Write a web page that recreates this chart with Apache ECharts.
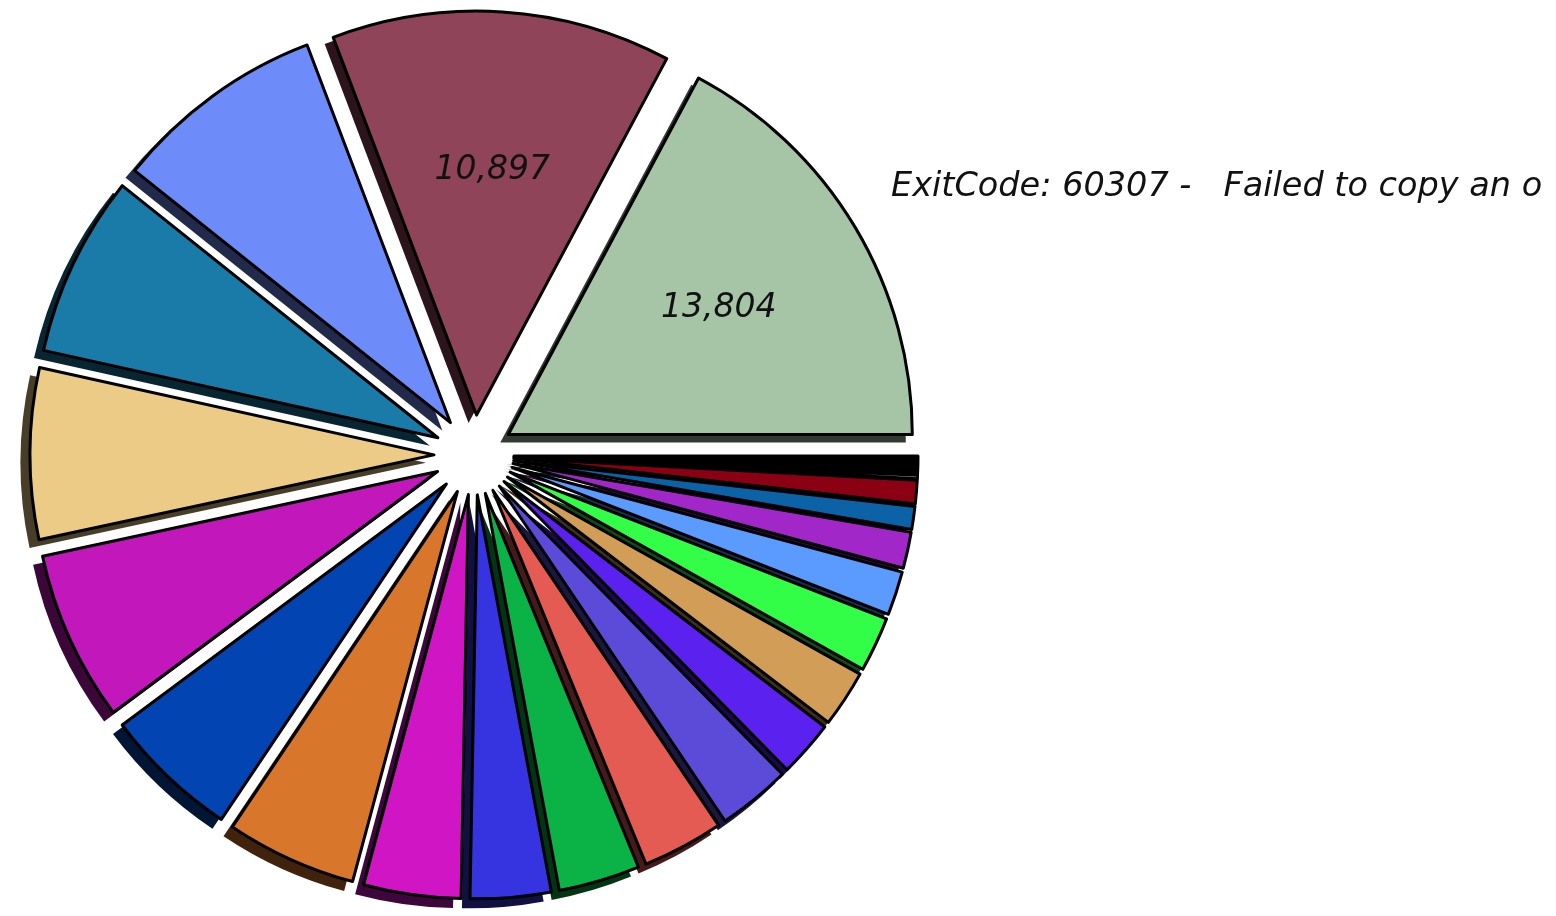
<!DOCTYPE html>
<html>
<head>
<meta charset="utf-8">
<script src="https://cdn.jsdelivr.net/npm/echarts@6/dist/echarts.min.js"></script>
<style>
    html, body { margin: 0; padding: 0; background: #ffffff; }
    #chart { width: 1556px; height: 916px; }
</style>
</head>
<body>
<div id="chart"></div>
<script>
// data, counter-clockwise from 3 o'clock
const categories = [
    'ExitCode: 60307 -   Failed to copy an o', 'Slice 2', 'Slice 3', 'Slice 4', 'Slice 5', 'Slice 6',
    'Slice 7', 'Slice 8', 'Slice 9', 'Slice 10', 'Slice 11', 'Slice 12', 'Slice 13', 'Slice 14',
    'Slice 15', 'Slice 16', 'Slice 17', 'Slice 18', 'Slice 19', 'Slice 20', 'Slice 21', 'Slice 22'
];
const counts = [
    13804, 10897, 6826, 5822, 5487, 5465, 4350, 4194, 3123, 2588, 2610,
    2610, 2342, 1807, 1829, 1762, 1405, 1160, 736, 758, 112, 580
];
const labeledSlices = [0, 1]; // only the two biggest wedges carry a value
const titleText = 'ExitCode: 60307 -   Failed to copy an o';

// styles
const sliceColors = [
    '#a5c5a6', '#8f4459', '#6e8cf9', '#1a7ba8', '#eccb86', '#c218bb', '#0245b2', '#d8762b',
    '#d016c4', '#3634e0', '#0bb246', '#e35b53', '#5b4bd8', '#5b22ef', '#d19d57', '#32fe48',
    '#5b9afe', '#a127c9', '#0b62a6', '#8b0012', '#c7c0cf', '#000000'
];
const pieCenter = [474, 455];
const pieRadius = 404;
const explode = 40;       // same explode for every wedge
const shadowShift = 8;    // matplotlib style shadow, down-left
const fontFamily = 'DejaVu Sans';

function darken(hex) {
    const n = parseInt(hex.slice(1), 16);
    const r = Math.round(((n >> 16) & 255) * 0.3);
    const g = Math.round(((n >> 8) & 255) * 0.3);
    const b = Math.round((n & 255) * 0.3);
    return 'rgb(' + r + ',' + g + ',' + b + ')';
}

function basePie() {
    return {
        type: 'pie',
        center: pieCenter.slice(),
        startAngle: 0,
        clockwise: false,
        selectedMode: 'multiple',
        selectedOffset: explode,
        avoidLabelOverlap: false,
        silent: true,
        animation: false,
        emphasis: { disabled: true },
        labelLine: { show: false }
    };
}

const chart = echarts.init(document.getElementById('chart'), null, { renderer: 'canvas' });

// shadow copy, drawn below everything
const shadowSeries = Object.assign(basePie(), {
    z: 1,
    center: [pieCenter[0] - shadowShift, pieCenter[1] + shadowShift],
    radius: [0, pieRadius + 1.5],
    label: { show: false },
    itemStyle: { borderWidth: 0 },
    data: counts.map((v, i) => ({
        name: categories[i],
        value: v,
        selected: true,
        itemStyle: { color: darken(sliceColors[i]) }
    }))
});

// the wedges themselves
const mainSeries = Object.assign(basePie(), {
    z: 2,
    radius: [0, pieRadius],
    label: { show: false },
    itemStyle: { borderColor: '#000000', borderWidth: 3 },
    data: counts.map((v, i) => ({
        name: categories[i],
        value: v,
        selected: true,
        itemStyle: { color: sliceColors[i] }
    }))
});

// invisible ring only used to put the value text at 0.6 of the radius
const labelSeries = Object.assign(basePie(), {
    z: 3,
    radius: [pieRadius * 0.2, pieRadius],
    itemStyle: { color: 'rgba(0,0,0,0)', borderWidth: 0 },
    label: {
        show: false,
        position: 'inside',
        rotate: 0,
        fontFamily: fontFamily,
        fontStyle: 'italic',
        fontSize: 33,
        color: '#111111',
        formatter: p => p.value.toLocaleString('en-US')
    },
    data: counts.map((v, i) => ({
        name: categories[i],
        value: v,
        selected: true,
        label: { show: labeledSlices.indexOf(i) >= 0 }
    }))
});

chart.setOption({
    animation: false,
    backgroundColor: '#ffffff',
    title: {
        text: titleText,
        left: 891,
        top: 170,
        padding: 0,
        textStyle: {
            fontFamily: fontFamily,
            fontStyle: 'italic',
            fontWeight: 'normal',
            fontSize: 33.5,
            color: '#111111'
        }
    },
    series: [shadowSeries, mainSeries, labelSeries]
});
</script>
</body>
</html>
